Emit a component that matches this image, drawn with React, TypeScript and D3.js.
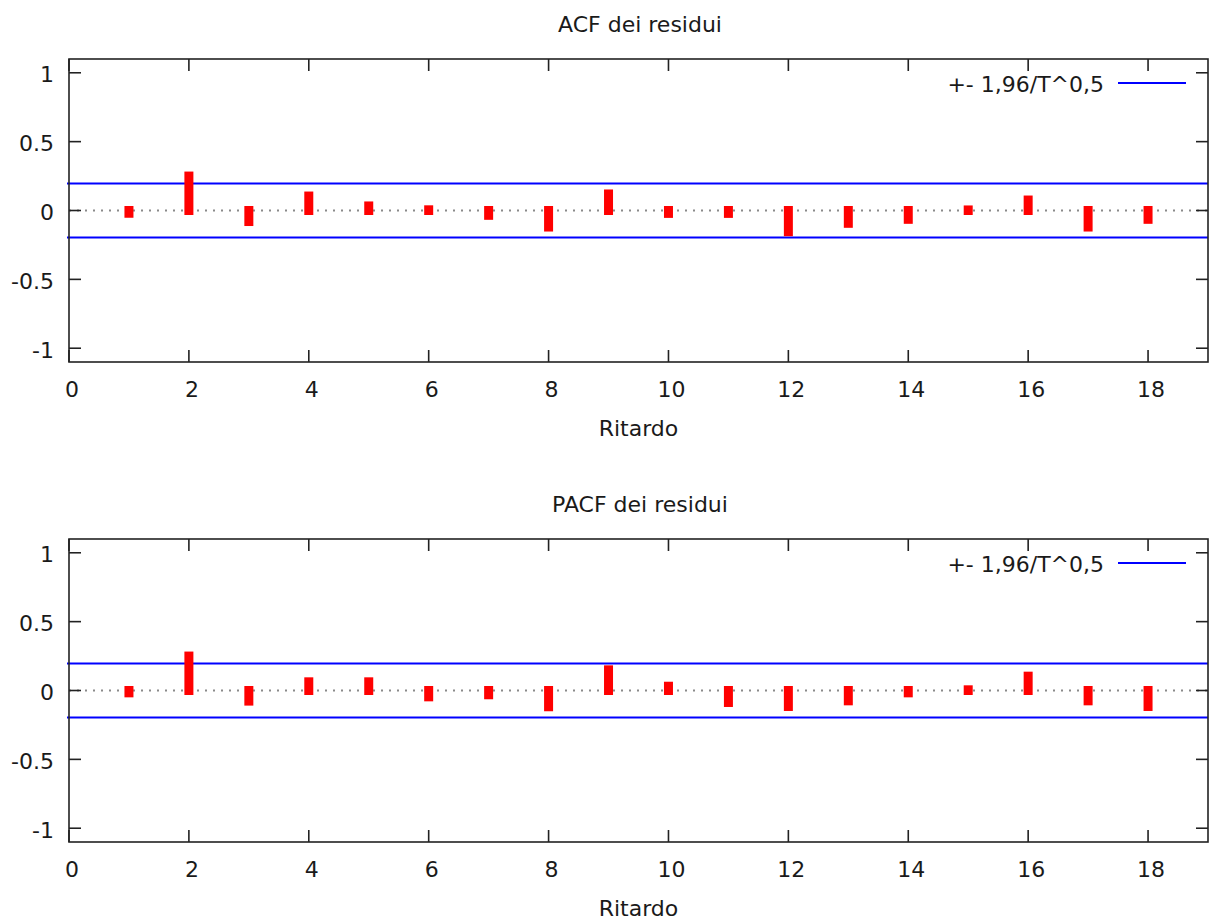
import React from "react";
import * as d3 from "d3";

const lags = [1, 2, 3, 4, 5, 6, 7, 8, 9, 10, 11, 12, 13, 14, 15, 16, 17, 18];
const acfValues = [-0.02, 0.25, -0.08, 0.105, 0.033, 0.005, -0.035, -0.12, 0.12, -0.021, -0.021, -0.154, -0.093, -0.064, 0.004, 0.076, -0.12, -0.064];
const pacfValues = [-0.017, 0.25, -0.077, 0.063, 0.063, -0.046, -0.031, -0.118, 0.15, 0.031, -0.087, -0.116, -0.075, -0.017, 0.005, 0.104, -0.075, -0.116];
const xTicks = [0, 2, 4, 6, 8, 10, 12, 14, 16, 18];
const yTicks = [-1, -0.5, 0, 0.5, 1];
const yTickLabels = ["-1", "-0.5", "0", "0.5", "1"];
const bound = 1.96 / Math.sqrt(100);
const titles = ["ACF dei residui", "PACF dei residui"];
const legendLabel = "+- 1,96/T^0,5";
const xLabel = "Ritardo";

const FONT = "'DejaVu Sans', Verdana, sans-serif";
const FS = 22;
const TEXT = "#1a1a1a";

const left = 69;
const right = 1208;
const plotH = 303;
const tickLen = 12;
const barW = 9;

function Panel({ top, title, values }: { top: number; title: string; values: number[] }) {
  const x = d3.scaleLinear().domain([0, 19]).range([left, right]);
  const y = d3.scaleLinear().domain([-1.1, 1.1]).range([top + plotH, top]);
  const bottom = top + plotH;
  return (
    <g>
      <text x={640} y={top - 35} textAnchor="middle" dominantBaseline="central" fontFamily={FONT} fontSize={FS} fill={TEXT}>
        {title}
      </text>
      {/* zero dotted line */}
      <line x1={left} x2={right} y1={y(0)} y2={y(0)} stroke="#8a8a8a" strokeWidth={2} strokeDasharray="2 6" />
      {/* confidence bands */}
      {[bound, -bound].map((b, i) => (
        <line key={i} x1={left - 2} x2={right} y1={y(b)} y2={y(b)} stroke="#0000ff" strokeWidth={2} />
      ))}
      {/* bars */}
      {values.map((v, i) => {
        const y0 = y(Math.max(0, v)) - barW / 2;
        const y1 = y(Math.min(0, v)) + barW / 2;
        return <rect key={i} x={x(lags[i]) - barW / 2} y={y0} width={barW} height={y1 - y0} fill="#ff0000" />;
      })}
      {/* frame */}
      <rect x={left} y={top} width={right - left} height={plotH} fill="none" stroke="#222" strokeWidth={1.6} />
      {/* x ticks */}
      {xTicks.map((t) => (
        <g key={t}>
          <line x1={x(t)} x2={x(t)} y1={bottom} y2={bottom - tickLen} stroke="#222" strokeWidth={1.6} />
          <line x1={x(t)} x2={x(t)} y1={top} y2={top + tickLen} stroke="#222" strokeWidth={1.6} />
          <text x={x(t) + 3} y={bottom + 27} textAnchor="middle" dominantBaseline="central" fontFamily={FONT} fontSize={FS} fill={TEXT}>
            {String(t)}
          </text>
        </g>
      ))}
      {/* y ticks */}
      {yTicks.map((t, i) => (
        <g key={t}>
          <line x1={left} x2={left + tickLen} y1={y(t)} y2={y(t)} stroke="#222" strokeWidth={1.6} />
          <line x1={right} x2={right - tickLen} y1={y(t)} y2={y(t)} stroke="#222" strokeWidth={1.6} />
          <text x={54} y={y(t) + 2} textAnchor="end" dominantBaseline="central" fontFamily={FONT} fontSize={FS} fill={TEXT}>
            {yTickLabels[i]}
          </text>
        </g>
      ))}
      <text x={(left + right) / 2} y={bottom + 66} textAnchor="middle" dominantBaseline="central" fontFamily={FONT} fontSize={FS} fill={TEXT}>
        {xLabel}
      </text>
      {/* legend */}
      <text x={1104} y={top + 25} textAnchor="end" dominantBaseline="central" fontFamily={FONT} fontSize={FS} fill={TEXT}>
        {legendLabel}
      </text>
      <line x1={1118} x2={1186} y1={top + 24} y2={top + 24} stroke="#0000ff" strokeWidth={2} />
    </g>
  );
}

export default function App() {
  return (
    <svg width={1216} height={920} style={{ position: "absolute", left: 0, top: 0, background: "#fff" }}>
      <rect width={1216} height={920} fill="#fff" />
      <Panel top={59} title={titles[0]} values={acfValues} />
      <Panel top={539} title={titles[1]} values={pacfValues} />
    </svg>
  );
}
